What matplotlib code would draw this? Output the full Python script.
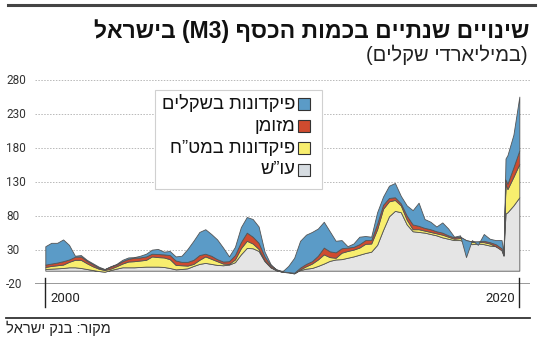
import re
import numpy as np
import pandas as pd
import matplotlib
matplotlib.use("Agg")
import matplotlib.pyplot as plt
from matplotlib.patches import Rectangle
from matplotlib.lines import Line2D
from matplotlib.transforms import blended_transform_factory

HEB = ['Liberation Sans', 'DejaVu Sans']
NUM = ['Roboto', 'DejaVu Sans']

# ---------------- data (billions of NIS, annual change) ----------------
dates = (list(pd.date_range('2000-01-01', '2019-04-01', freq='QS'))
         + [pd.Timestamp('2019-05-01'), pd.Timestamp('2019-06-01')]
         + list(pd.date_range('2019-07-01', '2020-01-01', freq='QS')))

current_accounts = [2.5, 3, 3.5, 4, 5, 5, 4, 2.5, 1, -0.5,
                    -1.5, 1, 3, 5, 5, 5, 5.5, 6, 6, 6,
                    5.5, 4, 2, 2.5, 3.5, 7, 10, 11.5, 10, 8.5,
                    8, 9, 12.5, 24, 33.5, 33, 29, 14, 5, 0.5,
                    -1.5, -1.5, -3.5, 1, 3, 4, 7, 10.5, 14.5, 16.5,
                    17, 19, 21, 23.5, 26, 28, 38, 60, 80, 88,
                    86, 68, 58, 57, 56, 54, 52, 49, 47, 45,
                    45, 42, 39, 40, 39, 37, 36, 33,
                    28, 84,
                    86, 96, 108]
fx_deposits = [3, 4, 4.5, 5, 8, 11, 12, 8.5, 5.5, 3.5,
               2.5, 2, 3.5, 5.5, 8.5, 9, 9.5, 10, 15, 14,
               14, 13, 6.5, 5.5, 4, 3, 6, 9.5, 7.5, 5.5,
               2.5, 1, 4, 9, 10.5, 7, 3, 1.5, 0.5, 0.5,
               -0.2, -1, -0.5, 1, 3.5, 6.5, 9.5, 13.5, 5.5, 2.5,
               9.5, 10, 10, 10.5, 13.5, 12, 23, 31, 22, 16,
               10, 7, 3, 4, 3, 3, 3, 4, 3, 2,
               3, 2, 3, 2, 3, 3, 0, -3,
               -6, 44,
               34, 42, 49]
cash = [3.5, 3.5, 4, 5, 3.5, 4.5, 5, 3.5, 3, 1.5,
        1, 3, 2.5, 3.5, 4, 5, 4.5, 5, 4, 4.5,
        4.5, 6, 6.5, 5, 5.5, 6, 7, 4, 4.5, 3,
        3, 4, 6.5, 9, 12, 10, 9, 5.5, 2.5, 1,
        0.7, 0.5, 1, 2.5, 3.5, 3.5, 5.5, 10, 8.5, 8,
        6.5, 5, 4, 5, 5.5, 5, 8, 6, 5, 4,
        3, 6, 7, 5, 4, 4, 3, 3, 2, 2,
        2, 1, 1, 1, 2, 2, 3, 3,
        1, 6,
        8, 14, 20]
shekel_deposits = [27, 30.5, 29, 32, 21.5, 1.5, 2, 1.5, 1.5, 1.5,
                   0.5, 0.5, 1, 2, 2, 1, 2.5, 4, 6, 7.5,
                   4, 6, 6, 9, 19, 28, 34, 36, 32, 29,
                   20.5, 7, 12, 22, 23, 26, 24, 7, 2, -1,
                   0, 9, 22, 39.5, 43, 43, 40, 38, 29.5, 17,
                   12, 2, 5, 11, 6, 5, 17, 12, 18, 21,
                   11, 15, 21, 34, 13, 11, 7, 15, 10, 1,
                   2, -25, 2, -5, 10, 5, 6, 12,
                   2, 31,
                   42, 48, 79]

series_labels = ['עו”ש', 'פיקדונות במט”ח', 'מזומן', 'פיקדונות בשקלים']
series_colors = ['#e5e5e5', '#f8ee6e', '#cf4b2f', '#5b9bc7']
legend_colors = ['#d6dce1', '#f8ee6e', '#cf4b2f', '#5b9bc7']
yticks = [-20, 30, 80, 130, 180, 230, 280]
xtick_years = [2000, 2020]

title = 'שינויים שנתיים בכמות הכסף (M3) בישראל'
subtitle = '(במיליארדי שקלים)'
source = 'מקור: בנק ישראל'


def rtl(s):
    """Convert logical-order Hebrew text to visual order for matplotlib."""
    tokens = re.findall(r'[A-Za-z0-9]+|.', s)[::-1]
    mirror = {'(': ')', ')': '('}
    return ''.join(mirror.get(t, t) for t in tokens)


W, H = 550, 340
def fx(px):
    return px / W
def fy(py):
    return 1 - py / H

x = np.array([d.year + (d.month - 1) / 12 for d in dates])

fig = plt.figure(figsize=(5.5, 3.4), dpi=100)
fig.patch.set_facecolor('white')
ax = fig.add_axes([fx(35), fy(284.3), 495 / W, 204 / H])
ax.set_xlim(1999.565, 2020.45)
ax.set_ylim(-20, 280)
for s in ax.spines.values():
    s.set_visible(False)
ax.set_xticks([])
ax.set_yticks([])
ax.patch.set_alpha(0)

for v in yticks[1:]:
    ax.axhline(v, color='#b8b8b8', lw=0.7, ls=(0, (1.5, 1.5)), zorder=0)
ax.axhline(yticks[0], color='#7a7a7a', lw=1.8, zorder=1)

ax.stackplot(x, current_accounts, fx_deposits, cash, shekel_deposits,
             colors=series_colors, edgecolor='#555555', linewidth=0.6, zorder=2)

# y tick labels
tr_y = blended_transform_factory(fig.transFigure, ax.transData)
for v in yticks:
    fig.text(fx(6), v, str(v), transform=tr_y, ha='left', va='center',
             fontsize=8.5, family=NUM, color='#333333')

# x ticks
tr_x = blended_transform_factory(ax.transData, ax.transAxes)
for yr in xtick_years:
    ax.add_line(Line2D([yr, yr], [0.031, -0.111], transform=tr_x,
                       clip_on=False, color='#222222', lw=1.0))
ax.text(xtick_years[0] + 0.2, -0.07, str(xtick_years[0]), transform=tr_x,
        ha='left', va='center', fontsize=9.5, family=NUM, color='#222222')
ax.text(xtick_years[1] - 0.17, -0.07, str(xtick_years[1]), transform=tr_x,
        ha='right', va='center', fontsize=9.5, family=NUM, color='#222222')

# legend (manual, right-to-left)
fig.patches.append(Rectangle((fx(155), fy(189)), (322 - 155) / W, (189 - 90) / H,
                             transform=fig.transFigure, facecolor='white',
                             edgecolor='#d0d0d0', lw=0.8, zorder=5))
rows = [104, 126, 148, 170]
for (lab, col), ry in zip(list(zip(series_labels, legend_colors))[::-1], rows):
    fig.patches.append(Rectangle((fx(297.5), fy(ry + 6)), 12 / W, 12 / H,
                                 transform=fig.transFigure, facecolor=col,
                                 edgecolor='#333333', lw=0.8, zorder=6))
    fig.text(fx(295), fy(ry), rtl(lab), ha='right', va='center',
             fontsize=13.2, family=HEB, color='#111111', zorder=7)

# title, subtitle, rules, source
fig.add_artist(Line2D([fx(8), fx(535)], [fy(5), fy(5)], color='#444444', lw=2.2))
fig.text(fx(529), fy(31), rtl(title), ha='right', va='center', fontsize=16.5,
         fontweight='bold', family=HEB, color='#111111')
fig.text(fx(528), fy(55), rtl(subtitle), ha='right', va='center', fontsize=14.5,
         family=HEB, color='#222222')
fig.add_artist(Line2D([fx(6), fx(530)], [fy(317.5), fy(317.5)], color='#333333', lw=1.3))
fig.text(fx(6), fy(328), rtl(source), ha='left', va='center', fontsize=10.5,
         family=HEB, color='#222222')

fig.savefig('out.png', dpi=100)
